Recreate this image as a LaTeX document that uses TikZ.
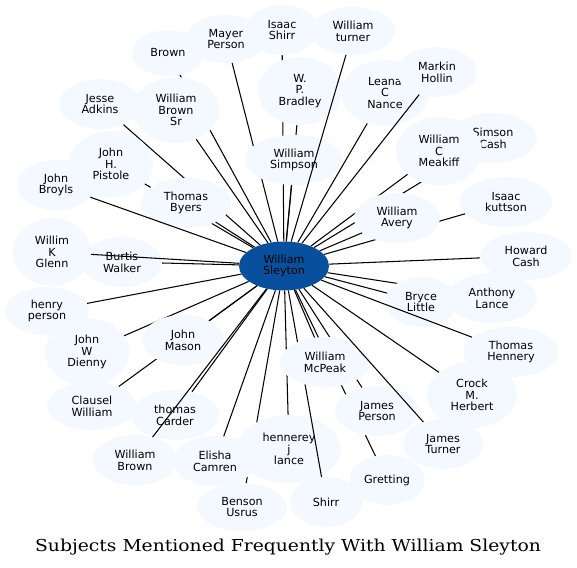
\documentclass[tikz,border=0pt]{standalone}
\usepackage{fontspec}
\setmainfont{DejaVu Sans}
\newfontfamily\titlefont[FakeStretch=1.14]{DejaVu Serif}
\usetikzlibrary{shapes.geometric}
\definecolor{leaffill}{RGB}{244,249,255}
\definecolor{hubfill}{RGB}{8,80,158}
\tikzset{
  leaf/.style={ellipse, fill=leaffill, inner sep=0pt, align=center, text=black,
    font=\fontsize{11.2}{11.8}\selectfont},
  hub/.style={ellipse, fill=hubfill, inner sep=0pt, align=center, text=black,
    minimum width=90bp, minimum height=49bp, font=\fontsize{11.2}{11.8}\selectfont},
  edge/.style={draw=black, line width=1.05bp},
  titlestyle/.style={font=\titlefont\fontsize{16.5}{18}\selectfont, inner sep=0pt}
}
\newcommand\leafnode[6]{%
  \node[leaf, minimum width={2*#4bp}, minimum height={2*#5bp}] (#1) at (#2,#3) {#6};
  \draw[edge] (hub) -- (#1);
}
\begin{document}
\begin{tikzpicture}[x=1bp, y=-1bp]
\useasboundingbox (0,0) rectangle (577,568);
\node[hub] (hub) at (284,266) {William\\Sleyton};
\leafnode{brown}{168}{53}{36}{23}{Brown}
\leafnode{wbsr}{176}{110}{43}{33}{William\\Brown\\Sr}
\leafnode{adkins}{100}{104}{41}{25}{Jesse\\Adkins}
\leafnode{pistole}{111}{164}{42}{33}{John\\H.\\Pistole}
\leafnode{byers}{186}{203}{45}{25}{Thomas\\Byers}
\leafnode{broyls}{56}{185}{39}{25}{John\\Broyls}
\leafnode{ishirr}{282}{30}{36}{25}{Isaac\\Shirr}
\leafnode{mayer}{226}{39}{40}{24}{Mayer\\Person}
\leafnode{bradley}{300}{91}{42}{34}{W.\\P.\\Bradley}
\leafnode{simpson}{294}{160}{49}{25}{William\\Simpson}
\leafnode{turner}{353}{31}{42}{24}{William\\turner}
\leafnode{leana}{385}{93}{44}{33}{Leana\\C\\Nance}
\leafnode{markin}{437}{72}{40}{25}{Markin\\Hollin}
\leafnode{simcash}{493}{138}{44}{25}{Simson\\Cash}
\leafnode{kuttson}{506}{202}{46}{25}{Isaac\\kuttson}
\leafnode{meakiff}{439}{151}{43}{34}{William\\C\\Meakiff}
\leafnode{avery}{397}{218}{43}{25}{William\\Avery}
\leafnode{burtis}{122}{262}{40}{25}{Burtis\\Walker}
\leafnode{glenn}{52}{252}{39}{34}{Willim\\K\\Glenn}
\leafnode{henry}{47}{311}{42}{24}{henry\\person}
\leafnode{dienny}{87}{352}{42}{34}{John\\W\\Dienny}
\leafnode{clausel}{92}{406}{45}{24}{Clausel\\William}
\leafnode{mason}{183}{340}{41}{25}{John\\Mason}
\leafnode{carder}{175}{415}{44}{25}{thomas\\Carder}
\leafnode{wbrown}{135}{460}{42}{25}{William\\Brown}
\leafnode{benson}{242}{507}{45}{24}{Benson\\Usrus}
\leafnode{camren}{215}{461}{42}{25}{Elisha\\Camren}
\leafnode{hennerey}{289}{449}{52}{34}{hennerey\\j\\lance}
\leafnode{shirr}{326}{502}{36}{25}{Shirr}
\leafnode{gretting}{387}{480}{38}{25}{Gretting}
\leafnode{jperson}{377}{411}{42}{25}{James\\Person}
\leafnode{mcpeak}{325}{362}{45}{25}{William\\McPeak}
\leafnode{howard}{526}{256}{46}{24}{Howard\\Cash}
\leafnode{anthony}{492}{298}{45}{25}{Anthony\\Lance}
\leafnode{bryce}{421}{302}{36}{25}{Bryce\\Little}
\leafnode{hennery}{511}{352}{48}{25}{Thomas\\Hennery}
\leafnode{crock}{472}{395}{45}{33}{Crock\\M.\\Herbert}
\leafnode{jturner}{443}{444}{40}{25}{James\\Turner}
\node[titlestyle] (title) at (288,547) {Subjects Mentioned Frequently With William Sleyton};
\end{tikzpicture}
\end{document}
